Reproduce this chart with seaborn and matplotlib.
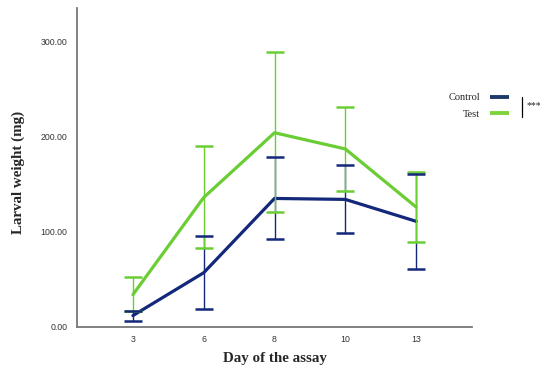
import numpy as np
import pandas as pd
import matplotlib
matplotlib.use("Agg")
import matplotlib.pyplot as plt
import seaborn as sns
from matplotlib.lines import Line2D

# data
days = ["3", "6", "8", "10", "13"]
control_mean = [12, 57, 135, 134, 111]
control_low = [6.5, 19, 92.5, 99, 61]
control_high = [17, 95.5, 179, 170, 161]
test_mean = [34, 136, 204, 187, 126]
test_low = [17, 83, 121, 143, 89]
test_high = [52, 190, 289, 231, 163]

navy = "#13287a"
green = "#6acd34"

df = pd.DataFrame({
    "pos": list(range(len(days))) * 2,
    "weight": control_mean + test_mean,
    "group": ["Control"] * len(days) + ["Test"] * len(days),
})

sns.set_style("white")
fig = plt.figure(figsize=(5.5, 3.76), dpi=100)
ax = fig.add_axes([77 / 550, 1 - 327 / 376, (472 - 77) / 550, (327 - 8) / 376])

# error bars first, control under test
for mean, low, high, col, z in [(control_mean, control_low, control_high, navy, 2),
                                (test_mean, test_low, test_high, green, 4)]:
    mean = np.array(mean)
    err = [mean - np.array(low), np.array(high) - mean]
    ax.errorbar(range(len(days)), mean, yerr=err, fmt="none", ecolor=col,
                elinewidth=1.0, capsize=6.5, capthick=1.8, zorder=z)

sns.lineplot(data=df, x="pos", y="weight", hue="group",
             palette={"Control": navy, "Test": green}, linewidth=2.3,
             legend=False, ax=ax)
for ln, z in zip(ax.lines, [3, 5]):
    ln.set_zorder(z)

ax.set_xlim(-0.79, len(days) - 1 + 0.79)
ax.set_ylim(0, 335)
ax.set_xticks(range(len(days)))
ax.set_xticklabels(days)
ax.set_yticks([0, 100, 200, 300])
ax.set_yticklabels(["0.00", "100.00", "200.00", "300.00"])
ax.tick_params(axis="both", labelsize=6.3, colors="#333333", labelfontfamily="Liberation Sans")
ax.tick_params(axis="y", length=4, width=0.8, color="#888888", pad=3)
ax.tick_params(axis="x", length=0, pad=6)
for side in ["top", "right"]:
    ax.spines[side].set_visible(False)
for side in ["left", "bottom"]:
    ax.spines[side].set_color("#777777")
    ax.spines[side].set_linewidth(1.3)

ax.set_xlabel("Day of the assay", fontsize=10.8, fontweight="bold",
              family="Liberation Serif")
ax.set_ylabel("Larval weight (mg)", fontsize=10.8, fontweight="bold",
              family="Liberation Serif")
ax.xaxis.set_label_coords(0.5, -0.078)
ax.yaxis.set_label_coords(-0.132, 0.486)

handles = [Line2D([], [], color="#1d3a6b", lw=2.8, solid_capstyle="butt"),
           Line2D([], [], color="#7ed33c", lw=2.8, solid_capstyle="butt")]
fig.legend(handles, ["Control", "Test"], loc="center", markerfirst=False,
           bbox_to_anchor=(479 / 550, 1 - 106 / 376), frameon=False,
           prop={"family": "Liberation Serif", "size": 7.5},
           handlelength=1.9, handletextpad=0.9, labelspacing=0.7)
fig.add_artist(Line2D([522 / 550, 522 / 550], [1 - 97 / 376, 1 - 117 / 376],
                      color="black", lw=0.9))
fig.text(527 / 550, 1 - 106 / 376, "***", fontsize=7, va="center", ha="left",
         family="Liberation Serif")

fig.savefig("out.png", dpi=100)
